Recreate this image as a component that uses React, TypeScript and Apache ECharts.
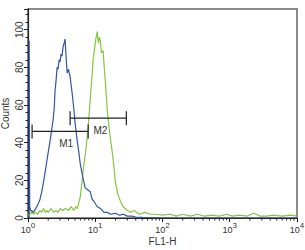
import React, { useEffect, useRef } from "react";
import * as echarts from "echarts";

// Blue histogram (FL1-H value, counts)
const blueX = [1.04, 1.04, 1.06, 1.1, 1.2, 1.3, 1.4, 1.51, 1.6, 1.7, 1.79, 1.9, 2.0, 2.13, 2.25, 2.36, 2.45, 2.53, 2.6, 2.71, 2.8, 2.9, 3.0, 3.1, 3.2, 3.33, 3.45, 3.56, 3.65, 3.82, 4.0, 4.23, 4.4, 4.54, 4.8, 5.03, 5.39, 5.7, 5.97, 6.5, 7.09, 7.7, 8.42, 9.0, 9.5, 10.7, 12, 13.5, 15.1, 17, 20, 23, 26, 30, 35, 40, 50, 100, 1000, 10000];
const blueY = [0, 94, 6, 4, 3, 5, 7, 10, 14, 19, 24, 30, 35, 41, 47, 52, 58, 68, 72, 80, 79, 84, 83, 87, 86, 91, 93, 95, 88, 77, 79, 75, 70, 66, 58, 50, 41, 35, 29, 22, 16, 15, 14, 10, 9, 6, 5, 3, 3, 2, 2.5, 1.5, 2, 1, 1, 0.5, 0.3, 0, 0, 0];

// Green histogram
const greenX = [1.0, 1.05, 1.1, 1.15, 1.2, 1.3, 1.4, 1.5, 1.6, 1.7, 1.8, 1.9, 2.0, 2.2, 2.4, 2.6, 2.8, 3.0, 3.3, 3.6, 4.0, 4.4, 4.8, 5.1, 5.39, 5.97, 6.3, 6.61, 7.0, 7.34, 7.85, 8.1, 8.42, 8.7, 9.03, 9.3, 9.68, 10.2, 10.7, 11.1, 11.5, 11.9, 12.3, 12.7, 13.1, 13.6, 14.1, 15.1, 15.6, 16.7, 17.9, 19, 19.9, 21.5, 23.6, 26, 30, 33.3, 38, 45, 55, 65, 80, 100, 130, 160, 200, 260, 330, 420, 550, 700, 900, 1100, 1400, 1800, 2300, 2800, 3500, 4500, 6000, 8000, 10000];
const greenY = [1, 3, 2, 4, 2, 3, 2, 4, 3, 5, 3, 4, 3, 5, 3, 4, 3, 5, 4, 5, 4, 6, 4, 6, 5, 11, 18, 25, 32, 38, 48, 55, 63, 70, 77, 84, 89, 95, 99, 93, 96, 94, 88, 88, 89, 80, 73, 57, 52, 43, 35, 27, 19, 13, 9, 6, 4, 3, 4, 2, 3, 2, 2, 1.5, 2, 1, 2, 1, 2, 1, 1.5, 1, 2, 1, 1.5, 1, 2.5, 1, 1, 1.5, 1, 1.5, 1];

// Marker gates
const gateNames = ["M1", "M2"];
const gateFrom = [1.15, 4.23];
const gateTo = [7.85, 29];
const gateLevel = [46, 53];
const gateLabelX = [3.7, 11.9];

// Axis ticks
const yTicks = [0, 20, 40, 60, 80, 100];
const xMinorTicks = [2, 3, 4, 5, 6, 7, 8, 9, 20, 30, 40, 50, 60, 70, 80, 90, 200, 300, 400, 500, 600, 700, 800, 900, 2000, 3000, 4000, 5000, 6000, 7000, 8000, 9000];

const FONT = "Liberation Sans, Arial, sans-serif";

export default function App() {
  const ref = useRef<HTMLDivElement>(null);
  useEffect(() => {
    if (!ref.current) return;
    const chart = echarts.init(ref.current, undefined, { renderer: "svg" });
    const blue = blueX.map((x, i) => [x, blueY[i]]);
    const green = greenX.map((x, i) => [x, greenY[i]]);
    const gates = gateNames.map((n, i) => [gateFrom[i], gateTo[i], gateLevel[i], gateLabelX[i]]);
    chart.setOption({
      animation: false,
      grid: {
        left: 28, right: 8, top: 9, bottom: 32,
        containLabel: false, outerBoundsMode: "none",
        show: true, borderColor: "#666", borderWidth: 1.5,
      },
      xAxis: {
        type: "log",
        logBase: 10,
        min: 1,
        max: 10000,
        name: "FL1-H",
        nameLocation: "middle",
        nameGap: 18,
        nameMoveOverlap: false,
        nameTextStyle: { fontSize: 10, color: "#333", fontFamily: FONT },
        axisLine: { lineStyle: { color: "#222", width: 1.2 } },
        axisTick: { show: true, length: 4, lineStyle: { color: "#222" } },
        splitLine: { show: false },
        axisLabel: {
          margin: 3,
          formatter: (v: number) => "{b|10}{s|" + Math.round(Math.log10(v)) + "}",
          rich: {
            b: { fontSize: 9, color: "#333", fontFamily: FONT, lineHeight: 13, verticalAlign: "bottom" },
            s: { fontSize: 8, color: "#333", fontFamily: FONT, lineHeight: 13, verticalAlign: "top" },
          },
        },
      },
      yAxis: {
        type: "value",
        min: 0,
        max: 111,
        interval: 20,
        name: "Counts",
        nameLocation: "middle",
        nameGap: 18,
        nameMoveOverlap: false,
        nameRotate: 90,
        nameTextStyle: { fontSize: 10, color: "#333", fontFamily: FONT },
        axisLine: { show: true, lineStyle: { color: "#222", width: 1.2 } },
        axisTick: { show: true, length: 4, lineStyle: { color: "#222" } },
        minorTick: { show: true, splitNumber: 5, length: 2.5, lineStyle: { color: "#222" } },
        splitLine: { show: false },
        minorSplitLine: { show: false },
        axisLabel: {
          rotate: 90,
          margin: 4,
          fontSize: 10,
          color: "#333",
          fontFamily: FONT,
          formatter: (v: number) => (yTicks.indexOf(v) >= 0 ? String(v) : ""),
        },
      },
      series: [
        {
          type: "line",
          data: blue,
          symbol: "none",
          lineStyle: { color: "#2f55a4", width: 1.2 },
          z: 3,
        },
        {
          type: "line",
          data: green,
          symbol: "none",
          lineStyle: { color: "#86c540", width: 1.2 },
          z: 2,
        },
        {
          type: "custom",
          data: gates,
          z: 5,
          renderItem: (params: any, api: any) => {
            const p1 = api.coord([api.value(0), api.value(2)]);
            const p2 = api.coord([api.value(1), api.value(2)]);
            const pl = api.coord([api.value(3), api.value(2)]);
            const name = gateNames[params.dataIndex];
            const st = { stroke: "#222", lineWidth: 1.2 };
            return {
              type: "group",
              children: [
                { type: "line", shape: { x1: p1[0], y1: p1[1], x2: p2[0], y2: p2[1] }, style: st },
                { type: "line", shape: { x1: p1[0], y1: p1[1] - 7, x2: p1[0], y2: p1[1] + 7 }, style: st },
                { type: "line", shape: { x1: p2[0], y1: p2[1] - 7, x2: p2[0], y2: p2[1] + 7 }, style: st },
                {
                  type: "text",
                  x: pl[0],
                  y: pl[1] + 12,
                  style: { text: name, fill: "#333", fontSize: 10, fontFamily: FONT, align: "center", verticalAlign: "middle" },
                },
              ],
            };
          },
        },
        {
          type: "custom",
          data: xMinorTicks.map((v) => [v, 0]),
          z: 4,
          silent: true,
          renderItem: (params: any, api: any) => {
            const p = api.coord([api.value(0), 0]);
            return {
              type: "line",
              shape: { x1: p[0], y1: p[1], x2: p[0], y2: p[1] + 2.5 },
              style: { stroke: "#222", lineWidth: 1 },
            };
          },
        },
      ],
    });
    return () => chart.dispose();
  }, []);
  return <div ref={ref} style={{ position: "fixed", left: 0, top: 0, width: 305, height: 250, background: "#fff" }} />;
}
